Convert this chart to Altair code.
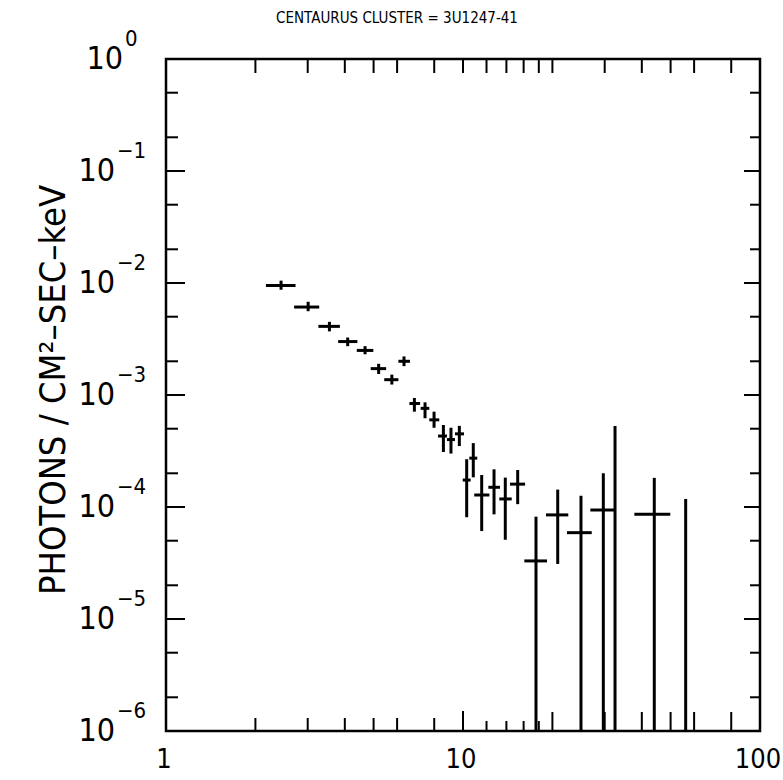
import altair as alt
import pandas as pd

# Centaurus cluster X-ray spectrum (photons / cm^2 s keV vs keV)
energy = [2.44, 3.01, 3.55, 4.09, 4.68, 5.20, 5.76, 6.33, 6.86, 7.45, 7.99, 8.59, 9.11,
          9.72, 10.29, 10.83, 11.56, 12.72, 13.88, 15.28, 17.61, 20.84, 24.96, 29.68, 44.06]
energy_lo = [2.17, 2.70, 3.26, 3.80, 4.39, 4.89, 5.43, 6.06, 6.60, 7.20, 7.70, 8.24, 8.83,
             9.40, 9.98, 10.50, 10.91, 12.17, 13.25, 14.40, 16.09, 19.03, 22.39, 26.84, 37.75]
energy_hi = [2.73, 3.28, 3.85, 4.41, 4.99, 5.51, 6.06, 6.63, 7.17, 7.70, 8.32, 8.83, 9.40,
             10.08, 10.61, 11.17, 12.27, 13.32, 14.59, 16.18, 19.18, 22.62, 27.13, 32.32, 49.89]
flux = [9.5e-3, 6.1e-3, 4.1e-3, 3.0e-3, 2.5e-3, 1.72e-3, 1.37e-3, 2.0e-3, 8.4e-4, 7.6e-4,
        6.0e-4, 4.3e-4, 4.0e-4, 4.5e-4, 1.74e-4, 2.73e-4, 1.28e-4, 1.50e-4, 1.18e-4, 1.60e-4,
        3.3e-5, 8.5e-5, 5.9e-5, 9.4e-5, 8.6e-5]
# lower error ends; None = error bar runs below the plotted range
flux_lo = [8.7e-3, 5.6e-3, 3.7e-3, 2.73e-3, 2.31e-3, 1.54e-3, 1.24e-3, 1.81e-3, 7.1e-4, 6.2e-4,
           5.1e-4, 3.1e-4, 3.0e-4, 3.5e-4, 8.1e-5, 1.84e-4, 6.1e-5, 8.6e-5, 5.1e-5, 1.06e-4,
           None, 3.1e-5, None, None, None]
flux_hi = [1.05e-2, 6.8e-3, 4.5e-3, 3.26e-3, 2.73e-3, 1.90e-3, 1.52e-3, 2.21e-3, 9.4e-4, 8.6e-4,
           7.1e-4, 5.4e-4, 5.1e-4, 5.3e-4, 2.67e-4, 3.72e-4, 1.93e-4, 2.17e-4, 1.83e-4, 2.14e-4,
           8.2e-5, 1.43e-4, 1.26e-4, 2.0e-4, 1.82e-4]

# channels whose measured value lies below the plotted range (only the upper error shows)
limit_energy = [32.5, 56.2]
limit_top = [5.3e-4, 1.18e-4]

# axis decorations
x_label_values = [1, 10, 100]
x_ticks_low = [2, 3, 4, 5, 6, 8]
x_ticks_decade = [10]
x_ticks_teens = [12, 14, 16, 18]
x_ticks_high = [20, 30, 40, 50, 60, 80]
y_exponents = [0, -1, -2, -3, -4, -5, -6]

X_MIN, X_MAX = 1, 100
Y_MIN, Y_MAX = 1e-6, 1
W, H = 594, 672
FONT = "DejaVu Sans Condensed, DejaVu Sans, sans-serif"

xs = alt.Scale(type="log", domain=[X_MIN, X_MAX], nice=False)
ys = alt.Scale(type="log", domain=[Y_MIN, Y_MAX], nice=False)

pts = pd.DataFrame({"e": energy, "e_lo": energy_lo, "e_hi": energy_hi,
                    "f": flux, "f_lo": flux_lo, "f_hi": flux_hi})
pts["f_lo"] = pts["f_lo"].fillna(Y_MIN)
lims = pd.DataFrame({"e": limit_energy, "f_hi": limit_top})
lims["f_lo"] = Y_MIN

hbars = alt.Chart(pts).mark_rule(color="black", strokeWidth=3, clip=True).encode(
    x=alt.X("e_lo:Q", scale=xs, axis=None), x2="e_hi:Q",
    y=alt.Y("f:Q", scale=ys, axis=None))
vbars = alt.Chart(pts).mark_rule(color="black", strokeWidth=3, clip=True).encode(
    x=alt.X("e:Q", scale=xs, axis=None),
    y=alt.Y("f_lo:Q", scale=ys, axis=None), y2="f_hi:Q")
lbars = alt.Chart(lims).mark_rule(color="black", strokeWidth=3, clip=True).encode(
    x=alt.X("e:Q", scale=xs, axis=None),
    y=alt.Y("f_lo:Q", scale=ys, axis=None), y2="f_hi:Q")


def xtick(vals, length, top=False):
    d = pd.DataFrame({"v": vals})
    if top:
        yy, yy2 = alt.value(0), alt.value(length)
    else:
        yy, yy2 = alt.value(H), alt.value(H - length)
    return alt.Chart(d).mark_rule(color="black", strokeWidth=2).encode(
        x=alt.X("v:Q", scale=xs, axis=None), y=yy, y2=yy2)


def ytick(vals, length, right=False):
    d = pd.DataFrame({"v": vals})
    if right:
        xx, xx2 = alt.value(W), alt.value(W - length)
    else:
        xx, xx2 = alt.value(0), alt.value(length)
    return alt.Chart(d).mark_rule(color="black", strokeWidth=2).encode(
        y=alt.Y("v:Q", scale=ys, axis=None), x=xx, x2=xx2)


y_major = [10.0 ** e for e in y_exponents]
y_minor = [m * 10.0 ** e for e in y_exponents[1:] for m in (2, 5)]
all_x_ticks = x_ticks_low + x_ticks_decade + x_ticks_teens + x_ticks_high

ticks = [
    xtick(x_ticks_low, 13), xtick(x_ticks_decade, 20), xtick(x_ticks_teens, 10),
    xtick(x_ticks_high, 19), xtick(all_x_ticks, 14, top=True),
    ytick(y_major, 19), ytick(y_minor, 12),
    ytick(y_major, 16, right=True), ytick(y_minor, 10, right=True),
]

# y tick labels: "10" with a raised exponent
ylab = pd.DataFrame({"v": y_major,
                     "exp": [str(e).replace("-", "\u2212") for e in y_exponents]})
ylab_base = alt.Chart(ylab).transform_calculate(
    bx="datum.exp == '0' ? -43 : -51"
).mark_text(font=FONT, fontSize=32, align="right", baseline="middle", color="black").encode(
    x=alt.X("bx:Q", scale=None), y=alt.Y("v:Q", scale=ys, axis=None), text=alt.value("10"))
ylab_exp = alt.Chart(ylab).transform_calculate(
    ex="datum.exp == '0' ? -41 : -49"
).mark_text(font=FONT, fontSize=22, align="left", baseline="alphabetic", dy=-13,
            color="black").encode(
    x=alt.X("ex:Q", scale=None), y=alt.Y("v:Q", scale=ys, axis=None), text="exp:N")

xlab = pd.DataFrame({"v": x_label_values, "t": [str(v) for v in x_label_values]})
xlabels = alt.Chart(xlab).mark_text(font=FONT, fontSize=27, align="center", dx=-2,
                                    baseline="alphabetic", color="black").encode(
    x=alt.X("v:Q", scale=xs, axis=None), y=alt.value(H + 37), text="t:N")

title = alt.Chart(pd.DataFrame({"t": ["CENTAURUS CLUSTER = 3U1247-41"]})).mark_text(
    font=FONT, fontSize=15, align="center", baseline="middle", color="black").encode(
    x=alt.value(231), y=alt.value(-41), text="t:N")

ytitle = alt.Chart(pd.DataFrame({"t": ["PHOTONS / CM\u00b2\u2013SEC\u2013keV"]})).mark_text(
    font=FONT, fontSize=36, align="center", baseline="middle", angle=270,
    color="black").encode(
    x=alt.value(-112), y=alt.value(331), text="t:N")

chart = alt.layer(
    *ticks, hbars, vbars, lbars, ylab_base, ylab_exp, xlabels, title, ytitle
).properties(
    width=W, height=H,
    autosize=alt.AutoSizeParams(type="none"),
    padding={"left": 166, "top": 59, "right": 783 - 166 - W, "bottom": 780 - 59 - H},
    background="white",
).configure_view(stroke="black", strokeWidth=2.5)

chart.save("out.html", embed_options={"renderer": "svg", "actions": False})
